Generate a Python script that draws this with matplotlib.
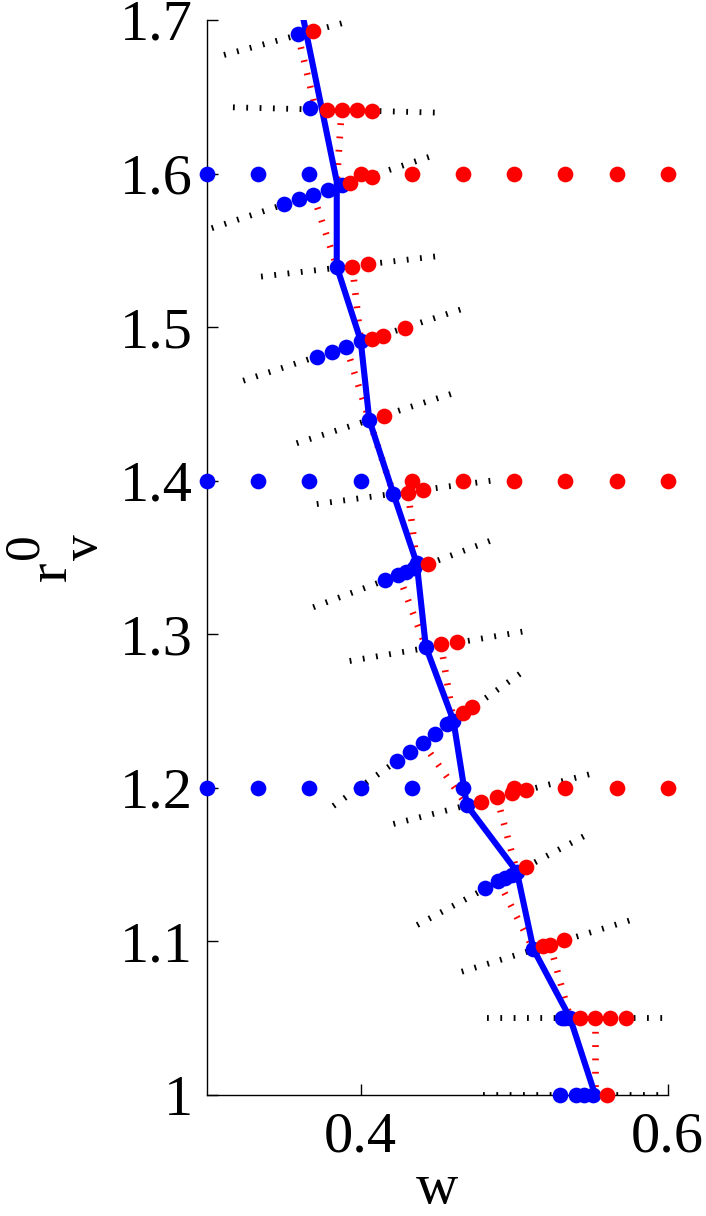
import numpy as np
import matplotlib
matplotlib.use('Agg')
import matplotlib.pyplot as plt

plt.rcParams['font.family'] = ['Liberation Serif', 'DejaVu Serif']
plt.rcParams['lines.scale_dashes'] = False

# ---------------- data ----------------
# solution path (blue line)
path_w = [0.3629, 0.3845, 0.3845, 0.4001, 0.4057, 0.4214, 0.4366, 0.4425,
          0.4605, 0.4692, 0.5018, 0.5126, 0.5365, 0.5528]
path_r = [1.7000, 1.5947, 1.5394, 1.4912, 1.4395, 1.3914, 1.3462, 1.2919,
          1.2437, 1.1888, 1.1454, 1.0949, 1.0500, 1.0000]

# black dotted search lines: [start, end]
black_w = [[0.3111, 0.3893], [0.3169, 0.4522], [0.3031, 0.4485], [0.3352, 0.4513],
           [0.3236, 0.4696], [0.3584, 0.4616], [0.3715, 0.4888], [0.3692, 0.4872],
           [0.3929, 0.5089], [0.3823, 0.5091], [0.4214, 0.5517], [0.4369, 0.5490],
           [0.4659, 0.5777], [0.4826, 0.6000], [0.4797, 0.6000]]
black_r = [[1.6772, 1.6982], [1.6431, 1.6396], [1.5644, 1.6121], [1.5329, 1.5463],
           [1.4651, 1.5129], [1.4244, 1.4573], [1.3848, 1.4005], [1.3176, 1.3619],
           [1.2826, 1.3023], [1.1882, 1.2780], [1.1765, 1.2095], [1.1107, 1.1704],
           [1.0803, 1.1144], [1.0500, 1.0500], [1.0000, 1.0000]]

# red dotted predictor lines: [start, end]
red_w = [[0.3591, 0.3706], [0.3877, 0.3845], [0.3692, 0.3845], [0.3947, 0.4001],
         [0.3906, 0.4057], [0.4057, 0.4214], [0.4310, 0.4366], [0.4247, 0.4425],
         [0.4523, 0.4605], [0.4405, 0.4692], [0.4888, 0.5018], [0.4898, 0.5126],
         [0.5235, 0.5365], [0.5528, 0.5528]]
red_r = [[1.6907, 1.6425], [1.6414, 1.5947], [1.5861, 1.5394], [1.5394, 1.4912],
         [1.4873, 1.4395], [1.4395, 1.3914], [1.3922, 1.3462], [1.3386, 1.2919],
         [1.2937, 1.2437], [1.2294, 1.1888], [1.1938, 1.1454], [1.1393, 1.0949],
         [1.0977, 1.0500], [1.0500, 1.0000]]

# blue iterate points
blue_w = [0.3591, 0.3671,
          0.3502, 0.3597, 0.3692, 0.3786, 0.3877,
          0.3845,
          0.3715, 0.3813, 0.3906, 0.4001,
          0.4057, 0.4214,
          0.4160, 0.4247, 0.4297, 0.4345, 0.4366,
          0.4425,
          0.4240, 0.4322, 0.4405, 0.4485, 0.4561, 0.4605,
          0.4692,
          0.4811, 0.4898, 0.4941, 0.4985, 0.5018,
          0.5126,
          0.5311, 0.5332, 0.5365,
          0.5300, 0.5404, 0.5452, 0.5517]
blue_r = [1.6907, 1.6425,
          1.5800, 1.5833, 1.5861, 1.5894, 1.5926,
          1.5394,
          1.4808, 1.4840, 1.4873, 1.4912,
          1.4395, 1.3914,
          1.3353, 1.3386, 1.3408, 1.3430, 1.3462,
          1.2919,
          1.2175, 1.2234, 1.2294, 1.2351, 1.2414, 1.2437,
          1.1888,
          1.1346, 1.1393, 1.1411, 1.1433, 1.1454,
          1.0949,
          1.0500, 1.0500, 1.0500,
          1.0000, 1.0000, 1.0000, 1.0000]

# red iterate points
red_pw = [0.3693,
          0.3780, 0.3877, 0.3975, 0.4073,
          0.3932, 0.4077,
          0.3947, 0.4047,
          0.4072, 0.4143, 0.4289,
          0.4154,
          0.4310, 0.4408,
          0.4437,
          0.4523, 0.4625,
          0.4665, 0.4728,
          0.4786, 0.4888, 0.4986, 0.5080,
          0.5078,
          0.5191, 0.5235, 0.5328,
          0.5430, 0.5528, 0.5625, 0.5728,
          0.5604]
red_pr = [1.6928,
          1.6414, 1.6414, 1.6414, 1.6410,
          1.5937, 1.5980,
          1.5394, 1.5410,
          1.4921, 1.4942, 1.4993,
          1.4423,
          1.3922, 1.3940,
          1.3456,
          1.2937, 1.2952,
          1.2486, 1.2529,
          1.1910, 1.1938, 1.1965, 1.1986,
          1.1487,
          1.0970, 1.0977, 1.1009,
          1.0500, 1.0500, 1.0500, 1.0500,
          1.0000]

# grid scans
grid_r = [1.2, 1.4, 1.6]
grid_w = [0.3, 0.3333, 0.3667, 0.4, 0.4333, 0.4667, 0.5, 0.5333, 0.5667, 0.6]
grid_n_blue = [6, 4, 3]

xticks = [0.4, 0.6]
xticklabels = ['0.4', '0.6']
yticks = [1.0, 1.1, 1.2, 1.3, 1.4, 1.5, 1.6, 1.7]
yticklabels = ['1', '1.1', '1.2', '1.3', '1.4', '1.5', '1.6', '1.7']

# ---------------- plot ----------------
W, H = 706, 1216
fig = plt.figure(figsize=(W / 100, H / 100), dpi=100)
ax = fig.add_axes([0.2932, 0.0995, 0.6525, 0.8841])

for ws, rs in zip(black_w, black_r):
    ax.plot(ws, rs, color='k', lw=4.2, linestyle=(0, (1.3, 8.3)),
            dash_capstyle='butt', zorder=1)
for ws, rs in zip(red_w, red_r):
    ax.plot(ws, rs, color='r', lw=4.8, linestyle=(0, (1.3, 8.3)),
            dash_capstyle='butt', zorder=2)

ax.plot(path_w, path_r, color='b', lw=4.4, zorder=3)

ms = 11.3
for r0, nb in zip(grid_r, grid_n_blue):
    ax.plot(grid_w[:nb], [r0] * nb, 'o', color='b', ms=ms, mec='none',
            clip_on=False, zorder=4)
    ax.plot(grid_w[nb:], [r0] * (len(grid_w) - nb), 'o', color='r', ms=ms,
            mec='none', clip_on=False, zorder=4)
ax.plot(blue_w, blue_r, 'o', color='b', ms=ms, mec='none', clip_on=False, zorder=4)
ax.plot(red_pw, red_pr, 'o', color='r', ms=ms, mec='none', clip_on=False, zorder=5)

ax.set_xlim(0.3, 0.6)
ax.set_ylim(1.0, 1.7)
ax.set_xticks(xticks)
ax.set_xticklabels(xticklabels)
ax.set_yticks(yticks)
ax.set_yticklabels(yticklabels)
ax.spines['top'].set_visible(False)
ax.spines['right'].set_visible(False)
for s in ('left', 'bottom'):
    ax.spines[s].set_linewidth(1.0)
ax.tick_params(direction='in', length=8, width=1.0, labelsize=42)
ax.tick_params(axis='x', pad=12)
ax.tick_params(axis='y', pad=10)

ax.set_xlabel('w', fontsize=42)
ax.xaxis.set_label_coords(0.5, -0.0635)

# y label: r with superscript 0 and subscript v, rotated
fig.text(66 / W, 1 - 581 / H, 'r', fontsize=42, rotation=90,
         rotation_mode='anchor', ha='left', va='baseline')
fig.text(37 / W, 1 - 559 / H, '0', fontsize=37, rotation=90,
         rotation_mode='anchor', ha='left', va='baseline')
fig.text(97 / W, 1 - 560 / H, 'v', fontsize=37, rotation=90,
         rotation_mode='anchor', ha='left', va='baseline')

fig.savefig('out.png', dpi=100)
